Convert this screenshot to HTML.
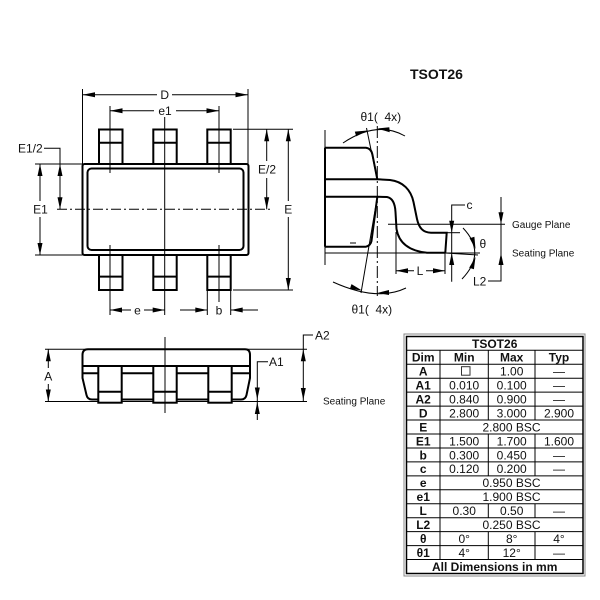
<!DOCTYPE html>
<html><head><meta charset="utf-8"><style>
html,body{margin:0;padding:0;background:#fff;}
svg{display:block;}
text{font-family:"Liberation Sans",Arial,sans-serif;fill:#111;}
</style></head><body>
<svg width="600" height="600" viewBox="0 0 600 600" xmlns="http://www.w3.org/2000/svg">
<rect width="600" height="600" fill="#fff"/>

<!-- Title -->
<text x="410" y="79" font-size="14" font-weight="bold">TSOT26</text>

<!-- ===== TOP VIEW ===== -->
<g stroke="#000" fill="#fff" stroke-width="2">
  <rect x="99" y="129.5" width="23.5" height="34.5"/>
  <rect x="153.3" y="129.5" width="23.4" height="34.5"/>
  <rect x="207.3" y="129.5" width="23.4" height="34.5"/>
  <rect x="99" y="255" width="23.5" height="35"/>
  <rect x="153.3" y="255" width="23.4" height="35"/>
  <rect x="207.3" y="255" width="23.4" height="35"/>
  <rect x="82.5" y="164" width="166" height="91" rx="2"/>
  <rect x="87.5" y="168.5" width="156" height="81.5" rx="4"/>
</g>
<g stroke="#000" stroke-width="2" fill="none">
  <line x1="99" y1="142.7" x2="122.5" y2="142.7"/>
  <line x1="153.3" y1="142.7" x2="176.7" y2="142.7"/>
  <line x1="207.3" y1="142.7" x2="230.7" y2="142.7"/>
  <line x1="99" y1="276.6" x2="122.5" y2="276.6"/>
  <line x1="153.3" y1="276.6" x2="176.7" y2="276.6"/>
  <line x1="207.3" y1="276.6" x2="230.7" y2="276.6"/>
</g>
<g stroke="#000" stroke-width="1" fill="none">
  <!-- center lines -->
  <line x1="164.7" y1="117" x2="164.7" y2="315"/>
  <line x1="57" y1="209.3" x2="270" y2="209.3" stroke-dasharray="10 3 2 3"/>
  <!-- e1 extension -->
  <line x1="110" y1="106" x2="110" y2="173"/>
  <line x1="219" y1="106" x2="219" y2="173"/>
  <line x1="110" y1="245" x2="110" y2="315"/>
  <line x1="219" y1="245" x2="219" y2="302"/>
  <!-- D extension -->
  <line x1="82.5" y1="89" x2="82.5" y2="164"/>
  <line x1="248" y1="89" x2="248" y2="164"/>
  <!-- D dim -->
  <line x1="82.5" y1="94.7" x2="157" y2="94.7"/>
  <line x1="172" y1="94.7" x2="248" y2="94.7"/>
  <!-- e1 dim -->
  <line x1="110" y1="110.7" x2="154" y2="110.7"/>
  <line x1="176" y1="110.7" x2="219" y2="110.7"/>
  <!-- E1 extension -->
  <line x1="35" y1="164" x2="82.5" y2="164"/>
  <line x1="35" y1="255" x2="82.5" y2="255"/>
  <!-- E1 dim -->
  <line x1="40" y1="164" x2="40" y2="201"/>
  <line x1="40" y1="217" x2="40" y2="255"/>
  <!-- E1/2 -->
  <polyline points="44,148.3 60,148.3 60,209.3"/>
  <!-- right extensions -->
  <line x1="233" y1="129.3" x2="293" y2="129.3"/>
  <line x1="233" y1="290" x2="293" y2="290"/>
  <!-- E/2 -->
  <line x1="266.7" y1="129.3" x2="266.7" y2="161"/>
  <line x1="266.7" y1="178" x2="266.7" y2="209.3"/>
  <!-- E -->
  <line x1="288.3" y1="129.3" x2="288.3" y2="201"/>
  <line x1="288.3" y1="217" x2="288.3" y2="290"/>
  <!-- e dim -->
  <line x1="110" y1="310" x2="131" y2="310"/>
  <line x1="144" y1="310" x2="164.7" y2="310"/>
  <!-- b -->
  <line x1="207.3" y1="290" x2="207.3" y2="315"/>
  <line x1="230.7" y1="290" x2="230.7" y2="315"/>
  <line x1="180" y1="310" x2="207.3" y2="310"/>
  <line x1="230.7" y1="310" x2="258" y2="310"/>
</g>
<g fill="#000">
  <polygon points="82.5,94.7 95,92.2 95,97.2"/>
  <polygon points="248,94.7 235.5,92.2 235.5,97.2"/>
  <polygon points="110,110.7 122.5,108.2 122.5,113.2"/>
  <polygon points="219,110.7 206.5,108.2 206.5,113.2"/>
  <polygon points="60,164 57.5,176 62.5,176"/>
  <polygon points="60,209.3 57.5,197.3 62.5,197.3"/>
  <polygon points="40,164 37.5,176 42.5,176"/>
  <polygon points="40,255 37.5,243 42.5,243"/>
  <polygon points="266.7,129.3 264.2,141.3 269.2,141.3"/>
  <polygon points="266.7,209.3 264.2,197.3 269.2,197.3"/>
  <polygon points="288.3,129.3 285.8,141.3 290.8,141.3"/>
  <polygon points="288.3,290 285.8,278 290.8,278"/>
  <polygon points="110,310 122,307.5 122,312.5"/>
  <polygon points="164.7,310 152.7,307.5 152.7,312.5"/>
  <polygon points="207.3,310 195.3,307.5 195.3,312.5"/>
  <polygon points="230.7,310 242.7,307.5 242.7,312.5"/>
</g>
<g font-size="12" text-anchor="middle">
  <text x="164.7" y="99">D</text>
  <text x="165" y="115">e1</text>
  <text x="40.5" y="213.5">E1</text>
  <text x="288.3" y="213.5">E</text>
  <text x="267" y="173.5">E/2</text>
  <text x="137.5" y="314.5">e</text>
  <text x="219" y="314.5">b</text>
</g>
<text x="18" y="152.5" font-size="12">E1/2</text>

<!-- ===== SIDE VIEW ===== -->
<g stroke="#000" stroke-width="1" fill="none">
  <line x1="325" y1="130" x2="325" y2="265"/>
  <line x1="377.3" y1="126" x2="377.3" y2="296" stroke-dasharray="12 3 2 3"/>
  <line x1="366.5" y1="128" x2="377.3" y2="180"/>
  <line x1="377.3" y1="197" x2="361" y2="293"/>
  <path d="M343,143 Q377,120 405,136"/>
  <path d="M333,282 Q377,302 406,288"/>
  <!-- seating / gauge -->
  <line x1="325" y1="253" x2="480" y2="253"/>
  <line x1="445" y1="253" x2="478" y2="255"/>
  <line x1="388" y1="224.3" x2="505" y2="224.3"/>
  <!-- L -->
  <line x1="396" y1="232" x2="396" y2="274"/>
  <line x1="445" y1="253" x2="445" y2="274"/>
  <line x1="396" y1="270.7" x2="414" y2="270.7"/>
  <line x1="426" y1="270.7" x2="445" y2="270.7"/>
  <!-- c -->
  <polyline points="465,205 451.7,205 451.7,281.7"/>
  <line x1="445" y1="232.7" x2="460" y2="232.7"/>
  <!-- theta -->
  <path d="M463,228 Q487,253 462,279"/>
  <!-- L2 -->
  <polyline points="501,197 501,281 488,281"/>
</g>
<g stroke="#000" stroke-width="2" fill="none">
  <path d="M325,147.7 L366,147.7 Q371.5,148.5 372.5,155 L377.3,179.3"/>
  <path d="M325,246.7 L366,246.7 Q370.5,245.5 371.5,241 L377.3,197"/>
  <line x1="325" y1="147.7" x2="325" y2="246.7"/>
  <line x1="325" y1="179.3" x2="377.3" y2="179.3"/>
  <line x1="325" y1="196.7" x2="377.3" y2="196.7"/>
  <path d="M377.3,179.3 L390,180 C403,181.5 411,190 413.5,202 L417,219 C419,228 423,232.7 431,232.7 L446.7,232.7 L445.3,252.7"/>
  <path d="M377.3,196.7 L387,197 C392.5,198 395,203 395.5,212 L396.5,229 C399,244 410,251 427,252.7 L445.3,252.7"/>
</g>
<line x1="350" y1="243" x2="356" y2="243" stroke="#000" stroke-width="1"/>
<g fill="#000">
  <polygon points="367.5,130.5 356.2,136.4 354.8,131.6"/>
  <polygon points="377.3,128.5 389.3,127.3 389.7,132.3"/>
  <polygon points="362,290.5 349.9,288.9 351.5,284.1"/>
  <polygon points="377.3,293 389,290 389,295"/>
  <polygon points="396,270.7 408,268.2 408,273.2"/>
  <polygon points="445,270.7 433,268.2 433,273.2"/>
  <polygon points="451.7,232.7 449.2,220.7 454.2,220.7"/>
  <polygon points="451.7,253 449.2,265 454.2,265"/>
  <polygon points="501,224.3 498.5,212.3 503.5,212.3"/>
  <polygon points="501,253 498.5,265 503.5,265"/>
  <polygon points="475.5,249 474.4,236.8 469.6,238.2"/>
  <polygon points="475.5,257 473.9,269.3 469.2,267.7"/>
</g>
<g font-size="12">
  <text x="360.5" y="121" xml:space="preserve">θ1(  4x)</text>
  <text x="351.5" y="313.5" xml:space="preserve">θ1(  4x)</text>
  <text x="420" y="275" text-anchor="middle">L</text>
  <text x="466.5" y="209">c</text>
  <text x="479.5" y="248">θ</text>
  <text x="473" y="285.5">L2</text>
</g>
<g font-size="10">
  <text x="512" y="228">Gauge Plane</text>
  <text x="512" y="256.5">Seating Plane</text>
</g>

<!-- ===== FRONT VIEW ===== -->
<g stroke="#000" stroke-width="1" fill="none">
  <line x1="45" y1="349.3" x2="307" y2="349.3"/>
  <line x1="45" y1="401.5" x2="307" y2="401.5"/>
  <line x1="165" y1="337" x2="165" y2="413"/>
  <line x1="48.3" y1="349.3" x2="48.3" y2="368"/>
  <line x1="48.3" y1="384" x2="48.3" y2="401.5"/>
  <polyline points="313,335 303.3,335 303.3,401.5"/>
  <polyline points="268,361.7 257.3,361.7 257.3,420"/>
</g>
<g stroke="#000" stroke-width="2" fill="#fff">
  <path d="M88,349.3 L245,349.3 Q250,349.3 250,355 L250,378 L246.5,395 Q245.5,399.5 241,399.5 L92,399.5 Q87.5,399.5 86.5,395 L82.5,378 L82.5,355 Q82.5,349.3 88,349.3 Z"/>
  <line x1="82.5" y1="366" x2="250" y2="366"/>
  <line x1="82.5" y1="373.3" x2="250" y2="373.3"/>
  <rect x="98.3" y="366" width="23.4" height="36.7"/>
  <rect x="153.3" y="366" width="23.4" height="36.7"/>
  <rect x="208.3" y="366" width="23.4" height="36.7"/>
  <line x1="98.3" y1="391.7" x2="121.7" y2="391.7"/>
  <line x1="153.3" y1="391.7" x2="176.7" y2="391.7"/>
  <line x1="208.3" y1="391.7" x2="231.7" y2="391.7"/>
</g>
<line x1="165" y1="337" x2="165" y2="413" stroke="#000" stroke-width="1"/>
<g fill="#000">
  <polygon points="48.3,349.3 45.8,361.3 50.8,361.3"/>
  <polygon points="48.3,401.5 45.8,389.5 50.8,389.5"/>
  <polygon points="303.3,349.3 300.8,361.3 305.8,361.3"/>
  <polygon points="303.3,400 300.8,388 305.8,388"/>
  <polygon points="257.3,399.5 254.8,387.5 259.8,387.5"/>
  <polygon points="257.3,402 254.8,414 259.8,414"/>
</g>
<g font-size="12">
  <text x="48.3" y="380.5" text-anchor="middle">A</text>
  <text x="315" y="339.5">A2</text>
  <text x="269" y="366">A1</text>
</g>
<text x="323" y="404.5" font-size="10">Seating Plane</text>

<!-- ===== TABLE ===== -->
<rect x="404" y="334" width="181" height="242" fill="none" stroke="#888" stroke-width="1"/>
<rect x="406.5" y="336.5" width="176.5" height="237" fill="none" stroke="#000" stroke-width="1.5"/>
<g stroke="#000" stroke-width="1">
  <line x1="406.5" y1="350.3" x2="583" y2="350.3"/>
  <line x1="406.5" y1="364.25" x2="583" y2="364.25"/>
  <line x1="406.5" y1="378.2" x2="583" y2="378.2"/>
  <line x1="406.5" y1="392.15" x2="583" y2="392.15"/>
  <line x1="406.5" y1="406.1" x2="583" y2="406.1"/>
  <line x1="406.5" y1="420.05" x2="583" y2="420.05"/>
  <line x1="406.5" y1="434" x2="583" y2="434"/>
  <line x1="406.5" y1="447.95" x2="583" y2="447.95"/>
  <line x1="406.5" y1="461.9" x2="583" y2="461.9"/>
  <line x1="406.5" y1="475.85" x2="583" y2="475.85"/>
  <line x1="406.5" y1="489.8" x2="583" y2="489.8"/>
  <line x1="406.5" y1="503.75" x2="583" y2="503.75"/>
  <line x1="406.5" y1="517.7" x2="583" y2="517.7"/>
  <line x1="406.5" y1="531.65" x2="583" y2="531.65"/>
  <line x1="406.5" y1="545.6" x2="583" y2="545.6"/>
  <line x1="406.5" y1="559.55" x2="583" y2="559.55"/>
  <line x1="440" y1="350.3" x2="440" y2="559.55"/>
  <line x1="488.3" y1="350.3" x2="488.3" y2="420.05"/>
  <line x1="488.3" y1="434" x2="488.3" y2="475.85"/>
  <line x1="488.3" y1="503.75" x2="488.3" y2="517.7"/>
  <line x1="488.3" y1="531.65" x2="488.3" y2="559.55"/>
  <line x1="535" y1="350.3" x2="535" y2="420.05"/>
  <line x1="535" y1="434" x2="535" y2="475.85"/>
  <line x1="535" y1="503.75" x2="535" y2="517.7"/>
  <line x1="535" y1="531.65" x2="535" y2="559.55"/>
</g>
<rect x="461.5" y="366.7" width="8.5" height="8.5" fill="none" stroke="#333" stroke-width="1"/>
<g font-size="12" text-anchor="middle">
  <g font-weight="bold">
    <text x="494.7" y="347.8">TSOT26</text>
    <text x="423.2" y="361.6">Dim</text>
    <text x="464.2" y="361.6">Min</text>
    <text x="511.7" y="361.6">Max</text>
    <text x="559" y="361.6">Typ</text>
    <text x="423.2" y="375.6">A</text>
    <text x="423.2" y="389.5">A1</text>
    <text x="423.2" y="403.5">A2</text>
    <text x="423.2" y="417.4">D</text>
    <text x="423.2" y="431.4">E</text>
    <text x="423.2" y="445.3">E1</text>
    <text x="423.2" y="459.3">b</text>
    <text x="423.2" y="473.2">c</text>
    <text x="423.2" y="487.2">e</text>
    <text x="423.2" y="501.1">e1</text>
    <text x="423.2" y="515.1">L</text>
    <text x="423.2" y="529">L2</text>
    <text x="423.2" y="543">θ</text>
    <text x="423.2" y="556.9">θ1</text>
    <text x="494.7" y="570.9">All Dimensions in mm</text>
  </g>
  <text x="511.7" y="375.6">1.00</text><text x="559" y="375.6">—</text>
  <text x="464.2" y="389.5">0.010</text><text x="511.7" y="389.5">0.100</text><text x="559" y="389.5">—</text>
  <text x="464.2" y="403.5">0.840</text><text x="511.7" y="403.5">0.900</text><text x="559" y="403.5">—</text>
  <text x="464.2" y="417.4">2.800</text><text x="511.7" y="417.4">3.000</text><text x="559" y="417.4">2.900</text>
  <text x="511.5" y="431.4">2.800 BSC</text>
  <text x="464.2" y="445.3">1.500</text><text x="511.7" y="445.3">1.700</text><text x="559" y="445.3">1.600</text>
  <text x="464.2" y="459.3">0.300</text><text x="511.7" y="459.3">0.450</text><text x="559" y="459.3">—</text>
  <text x="464.2" y="473.2">0.120</text><text x="511.7" y="473.2">0.200</text><text x="559" y="473.2">—</text>
  <text x="511.5" y="487.2">0.950 BSC</text>
  <text x="511.5" y="501.1">1.900 BSC</text>
  <text x="464.2" y="515.1">0.30</text><text x="511.7" y="515.1">0.50</text><text x="559" y="515.1">—</text>
  <text x="511.5" y="529">0.250 BSC</text>
  <text x="464.2" y="543">0°</text><text x="511.7" y="543">8°</text><text x="559" y="543">4°</text>
  <text x="464.2" y="556.9">4°</text><text x="511.7" y="556.9">12°</text><text x="559" y="556.9">—</text>
</g>
</svg>
</body></html>
